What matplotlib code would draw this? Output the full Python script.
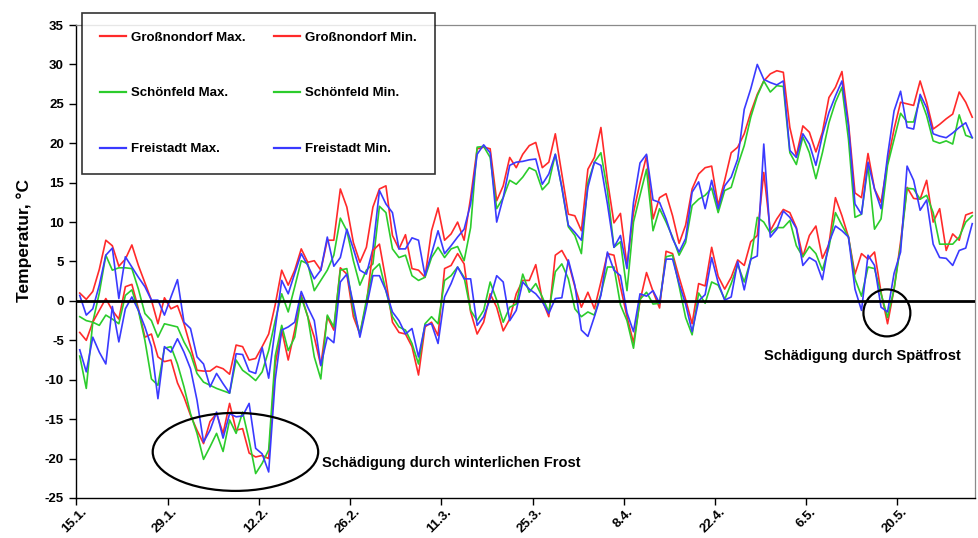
import numpy as np
import matplotlib
matplotlib.use("Agg")
import matplotlib.pyplot as plt
from matplotlib.patches import Ellipse
from matplotlib.transforms import ScaledTranslation

plt.rcParams['font.family'] = ['Liberation Sans', 'DejaVu Sans']
plt.rcParams['font.weight'] = 'bold'

# ---- data (daily values from 15.1. on) ----
tick_labels = ['15.1.', '29.1.', '12.2.', '26.2.', '11.3.', '25.3.', '8.4.', '22.4.', '6.5.', '20.5.']

gross_max = [1.0, 0.2, 1.2, 4.0, 7.7, 7.0, 4.4, 5.3, 7.1, 4.5, 2.3, 0.1, -2.9, 0.4, -1.0, -0.6, -2.9, -5.8, -8.8, -8.9,
             -8.9, -8.3, -8.6, -9.3, -5.6, -5.8, -7.5, -7.3, -5.8, -4.2,
             -0.5, 3.9, 2.0, 3.9, 6.6, 4.9, 5.1, 3.9, 7.7, 7.7, 14.2, 11.9, 7.4, 4.9, 6.8, 11.9, 14.2, 14.6, 8.3, 6.6,
             8.4, 4.1, 3.9, 3.0, 8.9, 11.8,
             7.7, 8.5, 10.0, 7.7, 13.1, 19.3, 19.5, 19.3, 12.7, 14.6, 18.2, 16.9, 18.6, 19.7, 20.1, 16.9, 17.6, 21.2,
             16.1, 11.0, 10.8, 8.9, 16.7, 18.2, 22.0, 15.3, 9.9, 11.1,
             4.5, 11.2, 15.0, 18.4, 10.4, 13.1, 13.6, 10.8, 7.3, 9.6, 14.2, 16.1, 16.9, 17.1, 12.1, 15.3, 18.8, 19.5,
             21.2, 23.9, 26.2, 27.9, 28.8, 29.2, 29.0, 22.0, 18.4, 22.2,
             21.4, 18.9, 21.4, 25.8, 27.1, 29.1, 22.6, 13.7, 13.1, 18.7, 14.2, 12.5, 17.6, 21.8, 25.2, 25.0, 24.8, 27.9,
             25.2, 21.8, 22.4, 23.1, 23.7, 26.5, 25.2, 23.3]

gross_min = [-4.0, -5.0, -2.7, -1.2, 0.3, -1.2, -2.3, 1.8, 2.1, -1.0, -4.6, -4.2, -7.1, -7.7, -7.5, -10.4, -12.2, -14.5,
             -16.4, -18.1, -15.3, -14.3, -16.8, -13.0, -16.4, -16.2, -19.3, -19.8, -19.6, -20.0,
             -8.0, -3.7, -7.5, -3.7, 0.7, -2.0, -4.6, -8.2, -2.0, -3.7, 4.2, 3.4, -2.0, -4.2, -0.4, 6.4, 7.2, 2.6, -2.7,
             -4.0, -4.2, -5.8, -9.4, -3.3, -2.7, -4.4,
             4.1, 4.5, 6.0, 4.7, -1.4, -4.2, -2.7, 0.9, -0.8, -3.8, -2.3, 0.9, 2.6, 2.6, 4.6, 0.1, -2.0, 5.8, 6.4, 4.9,
             1.8, -0.8, 1.1, -1.0, 2.4, 6.0, 5.8, 1.8,
             -2.0, -5.3, 0.0, 3.6, 1.2, -0.9, 6.3, 6.0, 3.0, 0.2, -2.9, 2.2, 1.9, 6.8, 3.1, 1.5, 3.0, 5.2, 4.5, 7.5, 8.3,
             16.3, 8.9, 10.4, 11.6, 11.2, 9.3, 5.6,
             8.3, 9.5, 5.4, 7.2, 13.1, 10.8, 8.1, 3.4, 6.0, 5.3, 6.2, 1.1, -2.9, 1.5, 7.5, 14.4, 13.0, 12.9, 15.3, 10.0,
             11.7, 6.4, 8.5, 7.7, 10.9, 11.2]

schoen_max = [-2.0, -2.5, -2.7, 1.0, 5.8, 3.9, 4.2, 4.2, 4.1, 1.5, -1.6, -2.5, -4.6, -2.9, -3.1, -3.3, -5.2, -6.7, -9.2,
              -10.3, -10.7, -11.1, -11.4, -11.7, -7.5, -8.8, -9.4, -10.1, -9.0, -6.3,
              -2.5, 0.9, -1.4, 1.8, 5.1, 4.7, 1.3, 2.6, 3.9, 5.8, 10.5, 8.9, 5.1, 2.0, 3.9, 4.7, 12.0, 11.2, 6.6, 5.5,
              5.8, 3.2, 2.6, 3.0, 5.5, 6.8,
              5.5, 6.6, 6.9, 5.1, 9.3, 19.5, 19.6, 18.2, 11.7, 13.1, 15.3, 14.8, 15.7, 16.9, 16.5, 14.1, 15.0, 18.6,
              14.4, 9.4, 8.3, 6.0, 15.0, 17.6, 18.8, 14.0, 6.8, 7.5,
              1.3, 10.0, 13.4, 16.7, 8.9, 11.7, 10.0, 8.1, 5.8, 7.4, 12.1, 12.9, 13.4, 14.3, 11.2, 14.0, 14.4, 17.2,
              19.7, 23.3, 26.0, 27.9, 26.5, 27.3, 27.2, 18.8, 17.3, 20.8,
              18.8, 15.5, 18.8, 22.6, 25.2, 27.1, 20.5, 10.6, 11.0, 17.2, 9.1, 10.4, 17.2, 20.5, 23.8, 22.7, 22.7, 25.8,
              23.5, 20.3, 20.0, 20.3, 19.9, 23.6, 21.0, 20.7]

schoen_min = [-7.0, -11.1, -2.7, -3.1, -1.8, -2.3, -2.9, 0.7, 1.4, -1.2, -5.0, -9.9, -10.7, -6.0, -5.8, -8.0, -10.9,
              -14.3, -16.8, -20.1, -18.5, -16.8, -19.1, -15.1, -16.8, -14.1, -17.7, -21.9, -20.6, -18.9,
              -7.0, -3.1, -6.3, -4.6, 0.5, -2.0, -7.1, -9.9, -1.8, -3.3, 3.9, 4.1, -1.2, -4.2, 0.1, 3.9, 4.7, 1.3, -2.0,
              -3.3, -3.7, -5.4, -8.0, -2.9, -2.0, -2.9,
              2.6, 3.2, 4.3, 3.0, -1.2, -2.5, -1.2, 2.4, 0.1, -2.7, -0.8, -0.4, 3.4, 1.1, 2.2, 0.5, -1.4, 3.7, 4.7, 2.8,
              -1.0, -2.0, -1.4, -1.8, 0.9, 4.3, 4.3, -0.5,
              -2.5, -6.0, 0.2, 1.1, -0.4, -0.3, 5.6, 5.8, 1.9, -2.1, -4.3, 1.0, -0.3, 2.4, 2.0, 0.2, 2.2, 4.6, 2.4, 5.2,
              10.6, 10.0, 8.6, 9.3, 9.3, 10.2, 7.0, 5.6,
              6.9, 6.0, 3.9, 6.8, 11.2, 9.6, 8.1, 2.8, 0.6, 4.3, 4.1, 0.9, -2.1, 1.5, 7.0, 14.3, 14.2, 12.9, 13.4, 11.2,
              7.2, 7.2, 7.2, 8.1, 10.0, 10.8]

frei_max = [0.7, -1.8, -1.0, 2.0, 5.8, 6.7, 0.3, 5.6, 4.3, 3.0, 1.8, 0.1, 0.1, -1.8, 0.5, 2.7, -2.7, -3.5, -7.1, -8.0,
            -10.9, -9.2, -10.5, -11.7, -6.7, -6.8, -8.9, -9.2, -5.9, -9.8,
            -3.5, 2.6, 0.9, 3.5, 6.0, 4.5, 2.8, 3.9, 8.1, 4.4, 5.5, 9.1, 6.6, 3.9, 3.4, 6.6, 14.0, 12.3, 11.2, 6.6,
            6.6, 8.0, 7.7, 3.2, 6.0, 8.9,
            6.0, 7.0, 8.1, 9.1, 12.3, 18.6, 19.8, 18.8, 10.0, 13.1, 17.2, 17.6, 17.7, 17.9, 18.0, 14.8, 16.1, 18.6,
            14.4, 9.6, 8.7, 7.7, 14.4, 17.6, 17.2, 12.3, 6.8, 8.3,
            4.1, 12.5, 17.5, 18.6, 12.8, 12.5, 10.4, 7.9, 6.2, 7.9, 13.8, 15.1, 11.7, 15.3, 11.7, 14.6, 15.7, 18.0,
            24.3, 26.9, 30.0, 28.1, 27.7, 27.4, 27.9, 19.1, 18.2, 21.2,
            19.9, 17.2, 21.0, 23.9, 26.0, 27.9, 22.2, 12.3, 11.0, 17.6, 14.2, 11.7, 18.4, 24.1, 26.6, 22.0, 21.8, 26.2,
            24.5, 21.2, 20.9, 20.7, 21.3, 22.0, 22.6, 20.7]

frei_min = [-6.2, -9.0, -4.6, -6.5, -8.0, -0.7, -5.2, -1.0, 0.5, -1.2, -3.3, -5.8, -12.4, -5.8, -6.5, -4.8, -6.5, -8.6,
            -12.6, -17.9, -16.4, -14.1, -17.4, -14.3, -14.7, -14.6, -13.0, -18.7, -19.4, -21.7,
            -10.0, -3.7, -3.3, -2.7, 1.2, -0.8, -2.5, -8.2, -4.6, -5.3, 2.4, 3.4, -0.4, -4.6, -0.8, 3.2, 3.2, 1.3, -1.4,
            -2.5, -4.2, -3.5, -7.1, -3.1, -2.9, -5.4,
            0.5, 2.2, 4.3, 2.8, 2.8, -3.1, -2.0, 0.3, 3.2, 2.4, -2.5, -1.2, 2.4, 1.5, 0.9, -0.1, -1.6, 0.3, 0.4, 5.2,
            2.0, -3.7, -4.5, -2.0, 0.7, 6.2, 3.9, 3.2,
            -1.5, -3.9, 0.9, 0.6, 1.3, -0.3, 5.3, 5.3, 2.2, -0.4, -3.9, 0.0, 0.8, 5.5, 2.3, 0.1, 0.5, 5.0, 1.4, 5.3, 5.7,
            19.9, 8.1, 9.1, 11.4, 10.6, 9.2, 4.5,
            5.5, 5.0, 2.7, 7.4, 9.5, 8.9, 8.1, 1.5, -1.2, 5.8, 4.5, -0.8, -1.4, 3.5, 6.2, 17.1, 15.3, 11.5, 12.8, 7.2,
            5.5, 5.4, 4.5, 6.4, 6.7, 9.8]

series = [
    ('Großnondorf Max.', gross_max, '#ff2a2a'),
    ('Schönfeld Max.', schoen_max, '#2ccc2c'),
    ('Freistadt Max.', frei_max, '#3a3aff'),
    ('Großnondorf Min.', gross_min, '#ff2a2a'),
    ('Schönfeld Min.', schoen_min, '#2ccc2c'),
    ('Freistadt Min.', frei_min, '#3a3aff'),
]

W, H = 979, 538
fig = plt.figure(figsize=(W / 100, H / 100), dpi=100)
ax = fig.add_axes([76.5 / W, 1 - 498 / H, 899 / W, 473 / H])

n = len(gross_max)
x = np.arange(n) + 0.5
handles = []
for label, vals, col in series:
    h, = ax.plot(x, vals, color=col, lw=1.2, label=label, zorder=3)
    handles.append(h)

ax.axhline(0, color='black', lw=2.0, zorder=4)

ax.set_xlim(0, n)
ax.set_ylim(-25, 35)
ax.set_yticks(np.arange(-25, 36, 5))
ax.set_yticklabels([str(v) for v in range(-25, 36, 5)], fontsize=9.5, fontweight='bold')
tick_pos = np.arange(0, 14 * len(tick_labels), 14)
ax.set_xticks(tick_pos)
ax.set_xticklabels([''] * len(tick_pos))
# rotated date labels placed slightly right of / below each tick
offset = ScaledTranslation(8 / 100, -12 / 100, fig.dpi_scale_trans)
for tp, tl in zip(tick_pos, tick_labels):
    ax.text(tp, 0, tl, transform=ax.get_xaxis_transform() + offset,
            fontsize=9.5, fontweight='bold', rotation=45, ha='right', va='center',
            rotation_mode='anchor', clip_on=False)

ax.tick_params(axis='both', direction='out', length=5, width=1, colors='black')
ax.tick_params(axis='y', pad=4)
for s in ['left', 'bottom']:
    ax.spines[s].set_color('black')
    ax.spines[s].set_linewidth(1.0)
for s in ['top', 'right']:
    ax.spines[s].set_color('#8a8a8a')
    ax.spines[s].set_linewidth(0.9)

ax.set_ylabel('Temperatur, °C', fontsize=12.5, fontweight='bold')
ax.yaxis.set_label_coords(-0.049, 0.545)

# annotations
ax.add_patch(Ellipse((24.4, -19.15), 25.4, 9.9, fill=False, ec='black', lw=1.6, zorder=5))
ax.add_patch(Ellipse((124.4, -1.52), 7.2, 5.96, fill=False, ec='black', lw=1.6, zorder=5))
ax.text(37.75, -20.55, 'Schädigung durch winterlichen Frost', fontsize=10.5, fontweight='bold',
        ha='left', va='center')
ax.text(105.6, -6.98, 'Schädigung durch Spätfrost', fontsize=10.5, fontweight='bold',
        ha='left', va='center')

leg = ax.legend(handles=handles, ncol=2, loc='upper left',
                bbox_to_anchor=(82 / W, 1 - 13 / H), bbox_transform=fig.transFigure,
                fontsize=9.5, frameon=True, fancybox=False, borderpad=1.4,
                labelspacing=3.3, handlelength=1.9, handletextpad=0.4,
                columnspacing=2.2, borderaxespad=0)
leg.get_frame().set_edgecolor('black')
leg.get_frame().set_linewidth(1.2)
leg.set_zorder(10)
for t in leg.get_texts():
    t.set_fontweight('bold')
for lh in leg.get_lines():
    lh.set_linewidth(1.6)

fig.savefig('out.png', dpi=100)
